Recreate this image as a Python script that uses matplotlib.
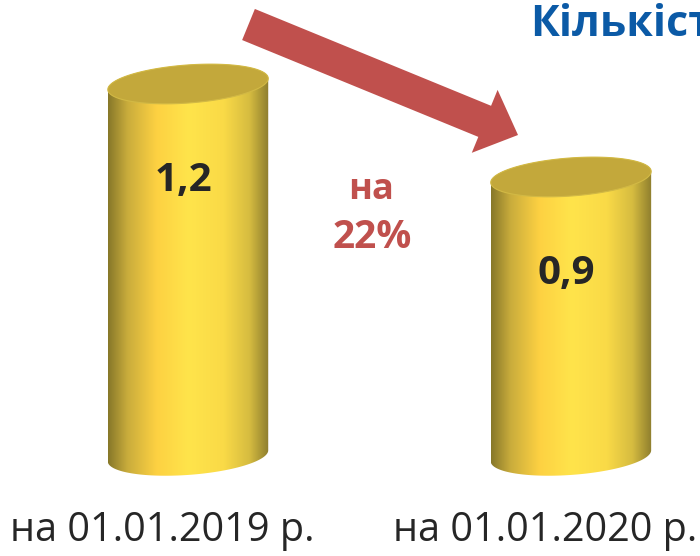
import numpy as np
import matplotlib.pyplot as plt
from matplotlib.colors import LinearSegmentedColormap
from matplotlib.patches import Polygon, FancyArrow
from matplotlib.transforms import Affine2D, blended_transform_factory

# Data
dates = ['на 01.01.2019 р.', 'на 01.01.2020 р.']
values = [1.2, 0.9]
value_labels = ['1,2', '0,9']
change_word = 'на'
change_pct = '22%'
title = 'Кількість'

FONT = ['Open Sans', 'DejaVu Sans']
W, H = 700, 556

fig = plt.figure(figsize=(W / 100, H / 100), dpi=100)
ax = fig.add_axes([0, 0, 1, 1])
ax.set_xlim(-0.491, 1.337)
ax.set_ylim(-0.323, 1.471)
ax.set_autoscale_on(False)
ax.axis('off')

# pixel coordinates (y up) for decorations
pix = Affine2D().scale(1 / W, 1 / H) + fig.transFigure

bar_w = 0.42
b = 19                      # half height of the ellipses, px
tilt = np.deg2rad(4.2)

gold = LinearSegmentedColormap.from_list('gold', [
    (0.0, '#877829'), (0.12, '#C9AC3C'), (0.3, '#FDD142'),
    (0.5, '#FFE44B'), (0.72, '#FADA47'), (0.88, '#D6BC40'), (1.0, '#8E7E2E')])
grad = np.linspace(0, 1, 256).reshape(1, -1)


def ellipse(cx, cy, a, t):
    x = cx + a * np.cos(t) * np.cos(tilt) - b * np.sin(t) * np.sin(tilt)
    y = cy + a * np.cos(t) * np.sin(tilt) + b * np.sin(t) * np.cos(tilt)
    return np.column_stack([x, y])


for i, v in enumerate(values):
    (x0, y0), (x1, y1) = ax.transData.transform([(i - bar_w / 2, 0), (i + bar_w / 2, v)])
    cx, a = (x0 + x1) / 2, (x1 - x0) / 2

    # body outline: back half of top + front half of bottom
    top_back = ellipse(cx, y1, a, np.linspace(0, np.pi, 80))
    bottom_front = ellipse(cx, y0, a, np.linspace(np.pi, 2 * np.pi, 80))
    body = Polygon(np.vstack([top_back, bottom_front]), closed=True, transform=pix,
                   facecolor='none', edgecolor='none')
    ax.add_patch(body)
    im = ax.imshow(grad, cmap=gold, aspect='auto', interpolation='bilinear',
                   extent=[i - bar_w / 2, i + bar_w / 2, -0.3, v + 0.2], zorder=2)
    im.set_clip_path(body)

    top = Polygon(ellipse(cx, y1, a, np.linspace(0, 2 * np.pi, 160)), closed=True,
                  transform=pix, facecolor='#C3A83B', edgecolor='#D2B945', lw=0.8, zorder=3)
    ax.add_patch(top)

    ax.text(i - 0.013, v - 0.31, value_labels[i], ha='center', va='center',
            fontsize=29, fontweight='bold', color='#262626', family=FONT, zorder=4)

# category labels under the cylinders
xlab = blended_transform_factory(ax.transData, pix)
for i, d in enumerate(dates):
    ax.text(i - 0.068, 15, d, transform=xlab, ha='center', va='baseline',
            fontsize=28.5, color='#262626', family=FONT)

# decrease arrow
ax.add_patch(FancyArrow(248.5, 531.5, 269.5, -110.5, width=33.6, head_width=68,
                        head_length=36, length_includes_head=True, transform=pix,
                        facecolor='#C0504D', edgecolor='none', zorder=5))
ax.text(371, 366, change_word, transform=pix, ha='center', va='center',
        fontsize=26, fontweight='bold', color='#C0504D', family=FONT)
ax.text(372, 319, change_pct, transform=pix, ha='center', va='center',
        fontsize=28, fontweight='bold', color='#C0504D', family=FONT)

ax.text(530, 520, title, transform=pix, ha='left', va='baseline',
        fontsize=31, fontweight='bold', color='#0B5AA6', family=FONT)

fig.savefig('out.png', dpi=100)
